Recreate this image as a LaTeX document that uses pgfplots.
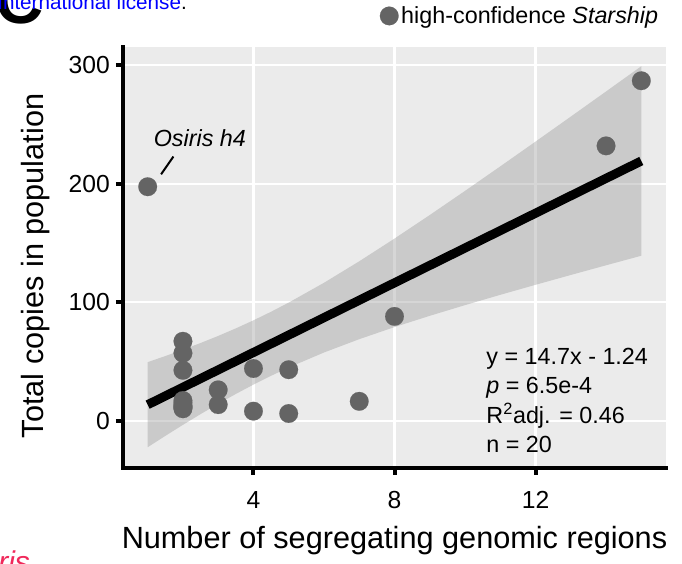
\documentclass[border=0pt]{standalone}
\usepackage{pgfplots}
\pgfplotsset{compat=1.18}
\usepackage{fontspec}
\setmainfont{Liberation Sans}
\definecolor{panel}{RGB}{235,235,235}
\definecolor{ptgray}{RGB}{100,100,100}
\definecolor{ribbon}{RGB}{153,153,153}
\definecolor{linkblue}{RGB}{0,0,255}
\definecolor{pinkred}{RGB}{240,40,90}
\begin{document}
\begin{tikzpicture}[x=0.75pt,y=0.75pt]
\clip (0,0) rectangle (682,564);
\node[anchor=base west, inner sep=0pt, font=\fontsize{50}{50}\selectfont\bfseries] at (-5,540) {C};
\node[anchor=base west, inner sep=0pt, font=\fontsize{15.5}{15.5}\selectfont] at (-3,554.5) {\textcolor{linkblue}{International license}.};
\node[anchor=base west, inner sep=0pt, font=\fontsize{22.5}{22.5}\selectfont\itshape, text=pinkred] at (-47,-9) {Osiris};
\begin{axis}[
  at={(92.25pt,72pt)}, anchor=south west,
  scale only axis, width=407.25pt, height=315.75pt,
  xmin=0.3, xmax=15.7, ymin=-40, ymax=315.5,
  axis x line*=bottom, axis y line*=left,
  axis line style={line width=3pt, black, line cap=rect, -},
  tick align=outside, major tick length=5.25pt,
  tick style={line width=3pt, black},
  xtick={4,8,12}, ytick={0,100,200,300},
  minor tick num=0,
  grid=major, major grid style={white, line width=1.6pt},
  axis background/.style={fill=panel},
  /pgf/number format/assume math mode=true,
  tick label style={font=\fontsize{18.5}{18.5}\selectfont},
  xticklabel style={inner sep=0pt, yshift=-12.25pt},
  yticklabel style={inner sep=0pt, xshift=-4.5pt},
  xlabel={Number of segregating genomic regions},
  ylabel={Total copies in population},
  label style={font=\fontsize{23}{23}\selectfont},
  xlabel style={at={(axis description cs:0.5,0)}, anchor=base, yshift=-60.25pt},
  ylabel style={at={(axis description cs:0,0.48)}, anchor=base, yshift=59.5pt},
  legend style={at={(axis description cs:1,1)}, anchor=south east, draw=none, fill=none,
    inner sep=0pt, font=\fontsize{17.5}{17.5}\selectfont, xshift=-3.75pt, yshift=14pt},
  legend cell align=left,
  clip=false,
]
\addplot[forget plot, fill=ribbon, fill opacity=0.4, draw=none] coordinates {
(1,49.39)(1.5,54.52)(2,59.88)(2.5,65.53)(3,71.52)(3.5,77.89)(4,84.69)(4.5,91.95)(5,99.67)(6,116.39)(7,134.54)(8,153.72)(9,173.62)(10,193.99)(11,214.69)(12,235.63)(13,256.73)(14,277.95)(15,299.27)
(15,139.25)(14,131.17)(13,122.99)(12,114.69)(11,106.23)(10,97.53)(9,88.50)(8,79.00)(7,68.78)(6,57.53)(5,44.85)(4.5,37.87)(4,30.43)(3.5,22.53)(3,14.20)(2.5,5.49)(2,-3.56)(1.5,-12.90)(1,-22.47)};
\addplot[forget plot, black, line width=6.8pt] coordinates {(1,13.46) (15,219.26)};
\addplot[only marks, mark=*, mark size=7pt, mark options={draw=ptgray, fill=ptgray, line width=0.1pt}] coordinates {
(1,197.5)
(2,67)(2,57)(2,42.5)(2,17)(2,15)(2,13)(2,12)(2,11)(2,10)
(3,26)(3,13.5)
(4,44)(4,8)
(5,43)(5,6)
(7,16.3)
(8,88)
(14,232)
(15,287)};
\addlegendentry{high-confidence \textit{Starship}}
\draw[black, line width=1.5pt] (axis cs:1.38,208) -- (axis cs:1.73,223);
\node[anchor=base west, inner sep=0pt, font=\fontsize{17.5}{17.5}\selectfont\itshape] at (axis cs:1.167,231.2) {Osiris h4};
\node[anchor=base west, inner sep=0pt, font=\fontsize{17.5}{17.5}\selectfont] at (axis cs:10.6,47.4) {y = 14.7x - 1.24};
\node[anchor=base west, inner sep=0pt, font=\fontsize{17.5}{17.5}\selectfont] at (axis cs:10.6,22.9) {\textit{p} = 6.5e-4};
\node[anchor=base west, inner sep=0pt, font=\fontsize{17.5}{17.5}\selectfont] at (axis cs:10.6,-2.3) {R\textsuperscript{2}adj. = 0.46};
\node[anchor=base west, inner sep=0pt, font=\fontsize{17.5}{17.5}\selectfont] at (axis cs:10.6,-26.8) {n = 20};
\end{axis}
\end{tikzpicture}
\end{document}
